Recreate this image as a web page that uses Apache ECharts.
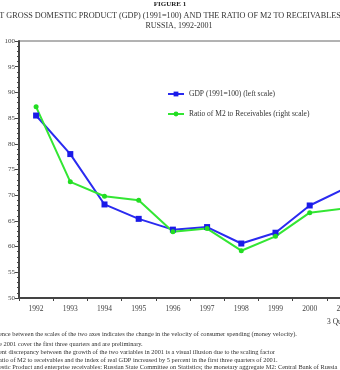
<!DOCTYPE html>
<html><head><meta charset="utf-8">
<script src="https://cdn.jsdelivr.net/npm/echarts@6/dist/echarts.min.js"></script>
<style>html,body{margin:0;padding:0;background:#fff}#c{width:340px;height:370px}</style>
</head><body><div id="c"></div>
<script>
var years = ['1992','1993','1994','1995','1996','1997','1998','1999','2000','2001'];
var gdp = [85.5, 78.0, 68.2, 65.4, 63.3, 63.8, 60.6, 62.7, 68.0, 71.2];
var ratioM2 = [87.2, 72.6, 69.8, 69.0, 62.9, 63.5, 59.2, 62.0, 66.6, 67.4];
var yTicks = [50, 55, 60, 65, 70, 75, 80, 85, 90, 95, 100];
var seriesNames = ['GDP (1991=100) (left scale)', 'Ratio of M2 to Receivables (right scale)'];
var titleLines = ['FIGURE 1', 'T GROSS DOMESTIC PRODUCT (GDP) (1991=100) AND THE RATIO OF M2 TO RECEIVABLES', 'RUSSIA, 1992-2001'];
var notes = [
  'ence between the scales of the two axes indicates the change in the velocity of consumer spending (money velocity).',
  'e 2001 cover the first three quarters and are preliminary.',
  'ent discrepancy between the growth of the two variables in 2001 is a visual illusion due to the scaling factor',
  'atio of M2 to receivables and the index of real GDP increased by 5 percent in the first three quarters of 2001.',
  'estic Product and enterprise receivables: Russian State Committee on Statistics; the monetary aggregate M2: Central Bank of Russia'
];
var noteY = [331, 341, 349, 357, 364];
var serif = '"Liberation Serif", "DejaVu Serif", serif';
var chart = echarts.init(document.getElementById('c'));
var graphics = [
  {type:'text', x:170, y:1, style:{text:titleLines[0], font:'bold 7px '+serif, fill:'#222', align:'center'}},
  {type:'text', x:170, y:12, style:{text:titleLines[1], font:'8.2px '+serif, fill:'#333', align:'center'}},
  {type:'text', x:179, y:22, style:{text:titleLines[2], font:'8px '+serif, fill:'#333', align:'center'}},
  {type:'text', x:327, y:318, style:{text:'3 Quarters', font:'7.5px '+serif, fill:'#333'}}
];
notes.forEach(function(t,i){
  graphics.push({type:'text', x:-1, y:noteY[i], style:{text:t, font:'6.4px '+serif, fill:'#333'}});
});
chart.setOption({
  animation:false,
  backgroundColor:'#fff',
  graphic: graphics,
  grid:{left:19, top:41, width:342, bottom:72, outerBoundsMode:'none', containLabel:false,
        show:true, borderColor:'#666', borderWidth:1},
  legend:{
    orient:'vertical', left:162, top:85, itemGap:12, itemWidth:16, itemHeight:6,
    textStyle:{fontFamily:serif, fontSize:7.5, color:'#333'},
    data: seriesNames
  },
  xAxis:{
    type:'category', data:years,
    axisLine:{lineStyle:{color:'#444', width:2}},
    axisTick:{show:true, length:3, lineStyle:{color:'#444'}},
    axisLabel:{fontFamily:serif, fontSize:7.5, color:'#444', margin:7}
  },
  yAxis:{
    type:'value', min:yTicks[0], max:yTicks[yTicks.length-1], interval:5,
    axisLine:{show:true, lineStyle:{color:'#444', width:2}},
    axisTick:{show:true, length:4, lineStyle:{color:'#444'}},
    minorTick:{show:true, splitNumber:5, length:2, lineStyle:{color:'#444'}},
    splitLine:{show:false},
    axisLabel:{fontFamily:serif, fontSize:7, color:'#444', margin:4}
  },
  series:[
    {name:seriesNames[0], type:'line', data:gdp, symbol:'rect', symbolSize:6,
     lineStyle:{color:'#2a2af0', width:2}, itemStyle:{color:'#1a1ae8'}},
    {name:seriesNames[1], type:'line', data:ratioM2, symbol:'circle', symbolSize:5,
     lineStyle:{color:'#33e633', width:2}, itemStyle:{color:'#22dd22'}}
  ]
});
</script></body></html>
